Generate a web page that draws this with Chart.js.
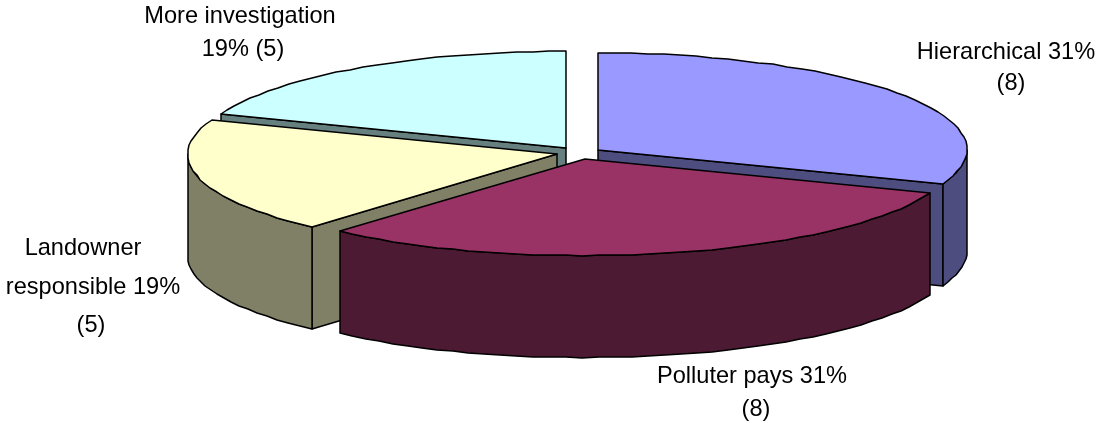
<!DOCTYPE html>
<html>
<head>
<meta charset="utf-8">
<title>Pie</title>
<style>
  html, body { margin: 0; background: #fff; }
  canvas { display: block; }
</style>
<script src="https://cdn.jsdelivr.net/npm/chart.js@4/dist/chart.umd.js"></script>
</head>
<body>
<canvas id="pieChart" width="1097" height="423"></canvas>
<script>
const categories = ['Hierarchical', 'Polluter pays', 'Landowner responsible', 'More investigation'];
const counts = [8, 8, 5, 5];
const labelLines = [
  ['Hierarchical 31%', '(8)'],
  ['Polluter pays 31%', '(8)'],
  ['Landowner', 'responsible 19%', '(5)'],
  ['More investigation', '19% (5)']
];

const topColors = ['#9999FF', '#993366', '#FFFFCC', '#CCFFFF'];
const sideColors = ['#4D4D80', '#4D1A33', '#808066', '#668080'];

// [centre x, baseline y] for each line of each label
const labelAnchors = [
  [[1006, 59], [1011, 90]],
  [[752, 383], [756, 416]],
  [[83, 255], [93, 294], [91, 332]],
  [[240, 23], [243, 56]]
];

const SQUASH = 0.262;      // vertical flattening of the disc
const DEPTH = 102;         // height of the walls
const FACET = 0.045;       // angle covered by one segment of the rim
const DRAW_ORDER = [3, 0, 2, 1];

// point on the flattened disc for a slice centred at (ox, oy)
function rim(ox, oy, r, angle, cy) {
  return [ox + r * Math.cos(angle), cy + (oy - cy + r * Math.sin(angle)) * SQUASH];
}

function shape(ctx, points, fill) {
  ctx.beginPath();
  points.forEach((p, i) => (i ? ctx.lineTo(p[0], p[1]) : ctx.moveTo(p[0], p[1])));
  ctx.closePath();
  ctx.fillStyle = fill;
  ctx.fill();
  ctx.stroke();
}

// rim as a coarse polyline on whole pixels
function arcPoints(ox, oy, r, from, to, cy) {
  const pts = [];
  const n = Math.max(2, Math.ceil((to - from) / FACET));
  for (let i = 0; i <= n; i++) {
    const p = rim(ox, oy, r, from + (to - from) * i / n, cy);
    pts.push([Math.round(p[0]), Math.round(p[1])]);
  }
  return pts;
}

const pie3d = {
  id: 'pie3d',
  beforeDatasetDraw(chart) {
    const ctx = chart.ctx;
    const arcs = chart.getDatasetMeta(0).data;
    ctx.save();
    ctx.strokeStyle = '#000';
    ctx.lineWidth = 1.5;
    ctx.lineJoin = 'round';
    DRAW_ORDER.forEach(i => {
      const a = arcs[i].getProps(['x', 'y', 'startAngle', 'endAngle', 'outerRadius']);
      const mid = (a.startAngle + a.endAngle) / 2;
      const shift = arcs[i].options.offset;
      const ox = a.x + Math.cos(mid) * shift;
      const oy = a.y + Math.sin(mid) * shift;
      const apex = [Math.round(ox), Math.round(a.y + (oy - a.y) * SQUASH)];
      const down = p => [p[0], p[1] + DEPTH];
      const edge = arcPoints(ox, oy, a.outerRadius, a.startAngle, a.endAngle, a.y);
      const start = edge[0];
      const end = edge[edge.length - 1];

      // cut faces turned towards the viewer
      if (Math.cos(a.startAngle) < -1e-6) {
        shape(ctx, [apex, start, down(start), down(apex)], sideColors[i]);
      }
      if (Math.cos(a.endAngle) > 1e-6) {
        shape(ctx, [apex, end, down(end), down(apex)], sideColors[i]);
      }

      // outer wall, front half only
      const lo = Math.max(a.startAngle, 0);
      const hi = Math.min(a.endAngle, Math.PI);
      if (hi > lo) {
        const wall = arcPoints(ox, oy, a.outerRadius, lo, hi, a.y);
        shape(ctx, wall.concat(wall.slice().reverse().map(down)), sideColors[i]);
      }

      // top face
      shape(ctx, [apex].concat(edge), topColors[i]);
    });
    ctx.restore();
    return false;
  },
  afterDraw(chart) {
    const ctx = chart.ctx;
    ctx.save();
    ctx.fillStyle = '#000';
    ctx.font = '23.6px "Liberation Sans", Arial, sans-serif';
    ctx.textAlign = 'center';
    ctx.textBaseline = 'alphabetic';
    labelLines.forEach((lines, i) => {
      lines.forEach((line, j) => ctx.fillText(line, labelAnchors[i][j][0], labelAnchors[i][j][1]));
    });
    ctx.restore();
  }
};

new Chart(document.getElementById('pieChart'), {
  type: 'pie',
  data: {
    labels: categories,
    datasets: [{
      data: counts,
      backgroundColor: topColors,
      radius: 369,
      offset: 23
    }]
  },
  options: {
    responsive: false,
    animation: false,
    events: [],
    layout: { padding: { left: 61, bottom: 117 } },
    plugins: { legend: { display: false }, tooltip: { enabled: false } }
  },
  plugins: [pie3d]
});
</script>
</body>
</html>
